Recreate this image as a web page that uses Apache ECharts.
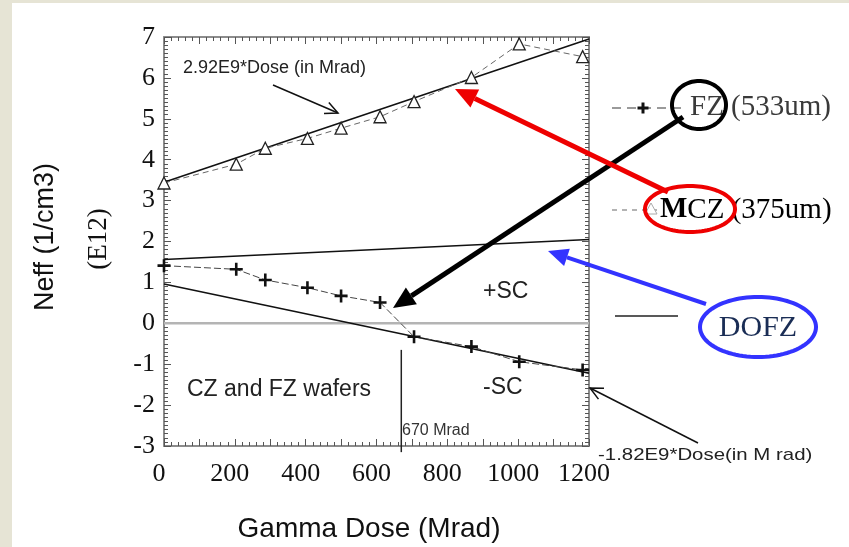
<!DOCTYPE html>
<html>
<head>
<meta charset="utf-8">
<script src="https://cdn.jsdelivr.net/npm/echarts@6/dist/echarts.min.js"></script>
<style>
  html, body { margin: 0; padding: 0; width: 849px; height: 547px; overflow: hidden; }
  body { background: #e6e4d5; }
  #sheet { position: absolute; left: 12px; top: 3px; right: 0; bottom: 0; background: #ffffff; }
  #chart { position: absolute; left: 0; top: 0; width: 849px; height: 547px; }
</style>
</head>
<body>
<div id="sheet"></div>
<div id="chart"></div>
<script>
// Measured effective doping vs gamma dose
const doses   = [0, 204, 286, 405, 500, 610, 706, 868, 1003, 1182];
const mczNeff = [3.43, 3.89, 4.28, 4.52, 4.77, 5.05, 5.42, 6.01, 6.83, 6.52];
const fzNeff  = [1.41, 1.32, 1.06, 0.87, 0.67, 0.51, -0.33, -0.57, -0.94, -1.14];

// Linear fits (end points at 0 and 1200 Mrad)
const fitDose   = [0, 1200];
const mczFit    = [3.45, 6.95];   // 2.92E9*Dose
const dofzFit   = [1.56, 2.05];
const czFzFit   = [0.96, -1.22];  // -1.82E9*Dose

// Type inversion dose marker
const inversionDose = 670;
const inversionSpan = [-0.65, -3.15];

// Axis ticks
const xTickLabels = [0, 200, 400, 600, 800, 1000, 1200];
const yTickLabels = [-3, -2, -1, 0, 1, 2, 3, 4, 5, 6, 7];

const pairs = (xs, ys) => xs.map((x, i) => [x, ys[i]]);

const chart = echarts.init(document.getElementById('chart'), null, { renderer: 'canvas' });

const serif = '"Liberation Serif", "DejaVu Serif", serif';
const sans = '"Liberation Sans", Arial, sans-serif';
const frameColor = '#8c8c8c';
const tickColor = '#555';

function frameAxis(extra) {
  return Object.assign({
    type: 'value',
    axisLine: { show: true, onZero: false, lineStyle: { color: frameColor, width: 2 } },
    axisTick: { show: true, inside: true, length: 7, lineStyle: { color: tickColor, width: 1 } },
    minorTick: { show: true, length: 4, lineStyle: { color: tickColor, width: 1 } },
    splitLine: { show: false },
    axisLabel: { show: false }
  }, extra);
}

const xRange = { min: 0, max: 1200, interval: 100 };
const yRange = { min: yTickLabels[0], max: yTickLabels[yTickLabels.length - 1], interval: 1 };

// Annotation arrows and rings (pixel space)
function solidArrow(x1, y1, x2, y2, color, width, headLen, headW) {
  const ang = Math.atan2(y2 - y1, x2 - x1);
  const bx = x2 - headLen * Math.cos(ang), by = y2 - headLen * Math.sin(ang);
  const px = -Math.sin(ang) * headW, py = Math.cos(ang) * headW;
  return [
    { type: 'line', z: 20, shape: { x1: x1, y1: y1, x2: bx, y2: by }, style: { stroke: color, lineWidth: width } },
    { type: 'polygon', z: 20, shape: { points: [[x2, y2], [bx + px, by + py], [bx - px, by - py]] }, style: { fill: color } }
  ];
}
function openArrow(x1, y1, x2, y2, color, width, headLen, spread) {
  const ang = Math.atan2(y2 - y1, x2 - x1);
  const a1 = ang + Math.PI - spread, a2 = ang + Math.PI + spread;
  return [
    { type: 'line', z: 20, shape: { x1: x1, y1: y1, x2: x2, y2: y2 }, style: { stroke: color, lineWidth: width } },
    { type: 'polyline', z: 20, shape: { points: [[x2 + headLen * Math.cos(a1), y2 + headLen * Math.sin(a1)], [x2, y2], [x2 + headLen * Math.cos(a2), y2 + headLen * Math.sin(a2)]] }, style: { stroke: color, lineWidth: width, fill: null } }
  ];
}
function ring(cx, cy, rx, ry, color, width) {
  const pts = [];
  for (let i = 0; i < 96; i++) {
    const t = i / 96 * Math.PI * 2;
    pts.push([cx + rx * Math.cos(t), cy + ry * Math.sin(t)]);
  }
  return { type: 'polygon', z: 15, shape: { points: pts }, style: { stroke: color, lineWidth: width, fill: null } };
}
function plusMark(cx, cy, size, thick, color) {
  return [
    { type: 'rect', z: 12, shape: { x: cx - size / 2, y: cy - thick / 2, width: size, height: thick }, style: { fill: color } },
    { type: 'rect', z: 12, shape: { x: cx - thick / 2, y: cy - size / 2, width: thick, height: size }, style: { fill: color } }
  ];
}

const plusPath = 'path://M4,0H6V4H10V6H6V10H4V6H0V4H4Z';

const graphics = [
  // axis titles
  { type: 'text', x: 369, y: 529, style: { text: 'Gamma Dose (Mrad)', font: '28px ' + sans, fill: '#111', align: 'center', verticalAlign: 'middle' } },
  { type: 'text', x: 46, y: 237, rotation: Math.PI / 2, style: { text: 'Neff (1/cm3)', font: '27px ' + sans, fill: '#111', align: 'center', verticalAlign: 'middle' } },
  { type: 'text', x: 99, y: 239, rotation: Math.PI / 2, style: { text: '(E12)', font: '27px ' + serif, fill: '#111', align: 'center', verticalAlign: 'middle' } },

  // in-plot annotations
  { type: 'text', x: 183, y: 68, z: 10, style: { text: '2.92E9*Dose (in Mrad)', font: '18px ' + sans, fill: '#222', align: 'left', verticalAlign: 'middle' } },
  { type: 'text', x: 187, y: 390, z: 10, style: { text: 'CZ and FZ wafers', font: '23px ' + sans, fill: '#222', align: 'left', verticalAlign: 'middle' } },
  { type: 'text', x: 483, y: 292, z: 10, style: { text: '+SC', font: '23px ' + sans, fill: '#222', align: 'left', verticalAlign: 'middle' } },
  { type: 'text', x: 483, y: 388, z: 10, style: { text: '-SC', font: '23px ' + sans, fill: '#222', align: 'left', verticalAlign: 'middle' } },
  { type: 'text', x: 402, y: 431, z: 10, style: { text: '670 Mrad', font: '16px ' + sans, fill: '#333', align: 'left', verticalAlign: 'middle' } },
  { type: 'text', x: 598, y: 455, z: 10, scaleX: 1.2, style: { text: '-1.82E9*Dose(in M rad)', font: '17px ' + sans, fill: '#222', align: 'left', verticalAlign: 'middle' } },

  // legend samples
  { type: 'line', shape: { x1: 612, y1: 108, x2: 682, y2: 108 }, style: { stroke: '#9a9a9a', lineWidth: 2, lineDash: [9, 6] } },
  { type: 'line', shape: { x1: 612, y1: 210, x2: 660, y2: 210 }, style: { stroke: '#9a9a9a', lineWidth: 1.5, lineDash: [5, 5] } },
  { type: 'polygon', shape: { points: [[651, 203], [645, 214], [657, 214]] }, style: { fill: '#fff', stroke: '#aaa', lineWidth: 1 } },
  { type: 'line', shape: { x1: 615, y1: 316, x2: 678, y2: 316 }, style: { stroke: '#222', lineWidth: 1.5 } },

  { type: 'text', x: 690, y: 107, style: { text: 'FZ (533um)', font: '29px ' + serif, fill: '#3a3a3a', align: 'left', verticalAlign: 'middle' } },
  { type: 'text', x: 660, y: 210, style: {
      text: '{m|M}{r|CZ (375um)}', align: 'left', verticalAlign: 'middle',
      rich: { m: { fontFamily: serif, fontSize: 29, fontWeight: 'bold', color: '#000' }, r: { fontFamily: serif, fontSize: 29, color: '#3a3a3a' } } } },
  { type: 'text', x: 758, y: 328, style: { text: 'DOFZ', font: '30px ' + serif, fill: '#1a2d55', align: 'center', verticalAlign: 'middle' } },

  // highlight rings
  ring(699, 105, 27, 24, '#000', 4),
  ring(690, 209, 45, 23, '#ee0000', 4),
  ring(758, 327, 58, 30, '#3333ff', 4)
]
  .concat(plusMark(643, 108, 11, 3, '#111'))
  .concat(openArrow(273, 85, 338, 113, '#111', 1.5, 14, 0.45))
  .concat(openArrow(698, 443, 590, 388, '#111', 1.5, 14, 0.45))
  .concat(solidArrow(683, 117, 393, 308, '#000', 5, 22, 10))
  .concat(solidArrow(668, 192, 455, 89, '#ee0000', 5, 22, 10))
  .concat(solidArrow(706, 304, 548, 251, '#3333ff', 4, 20, 9));

chart.setOption({
  animation: false,
  backgroundColor: 'transparent',
  grid: { left: 164, top: 37, width: 425, height: 409, containLabel: false },
  xAxis: [
    frameAxis(Object.assign({
      position: 'bottom',
      minorTick: { show: true, splitNumber: 5, length: 4, lineStyle: { color: tickColor, width: 1 } },
      axisLabel: {
        show: true, margin: 15, color: '#111', fontFamily: serif, fontSize: 26, padding: [0, 10, 0, 0],
        formatter: v => (xTickLabels.indexOf(v) >= 0 ? String(v) : '')
      }
    }, xRange)),
    frameAxis(Object.assign({
      position: 'top',
      minorTick: { show: true, splitNumber: 5, length: 4, lineStyle: { color: tickColor, width: 1 } }
    }, xRange))
  ],
  yAxis: [
    frameAxis(Object.assign({
      position: 'left',
      minorTick: { show: true, splitNumber: 10, length: 4, lineStyle: { color: tickColor, width: 1 } },
      axisLabel: { show: true, margin: 9, color: '#111', fontFamily: serif, fontSize: 26,
        formatter: v => (yTickLabels.indexOf(v) >= 0 ? String(v) : '') }
    }, yRange)),
    frameAxis(Object.assign({
      position: 'right',
      minorTick: { show: true, splitNumber: 10, length: 4, lineStyle: { color: tickColor, width: 1 } }
    }, yRange))
  ],
  series: [
    { name: 'zero', type: 'line', silent: true, symbol: 'none', z: 1,
      data: pairs(fitDose, [0, 0]), lineStyle: { color: '#b4b4b4', width: 2.5 } },
    { name: 'MCZ fit', type: 'line', silent: true, symbol: 'none', z: 3,
      data: pairs(fitDose, mczFit), lineStyle: { color: '#111', width: 1.6 } },
    { name: 'DOFZ', type: 'line', silent: true, symbol: 'none', z: 3,
      data: pairs(fitDose, dofzFit), lineStyle: { color: '#111', width: 1.4 } },
    { name: 'CZ/FZ fit', type: 'line', silent: true, symbol: 'none', z: 3,
      data: pairs(fitDose, czFzFit), lineStyle: { color: '#111', width: 1.6 } },
    { name: 'MCZ (375um)', type: 'line', z: 4, symbol: 'triangle', symbolSize: 12,
      data: pairs(doses, mczNeff),
      lineStyle: { color: '#666', width: 1, type: [6, 4] },
      itemStyle: { color: '#fff', borderColor: '#222', borderWidth: 1.3 } },
    { name: 'FZ (533um)', type: 'line', z: 4, symbol: plusPath, symbolSize: 13,
      data: pairs(doses, fzNeff),
      lineStyle: { color: '#444', width: 1, type: [7, 3] },
      itemStyle: { color: '#111' } },
    { name: 'inversion', type: 'line', silent: true, symbol: 'none', z: 3, clip: false,
      data: inversionSpan.map(v => [inversionDose, v]),
      lineStyle: { color: '#222', width: 1.5 } }
  ],
  graphic: graphics
});
</script>
</body>
</html>
